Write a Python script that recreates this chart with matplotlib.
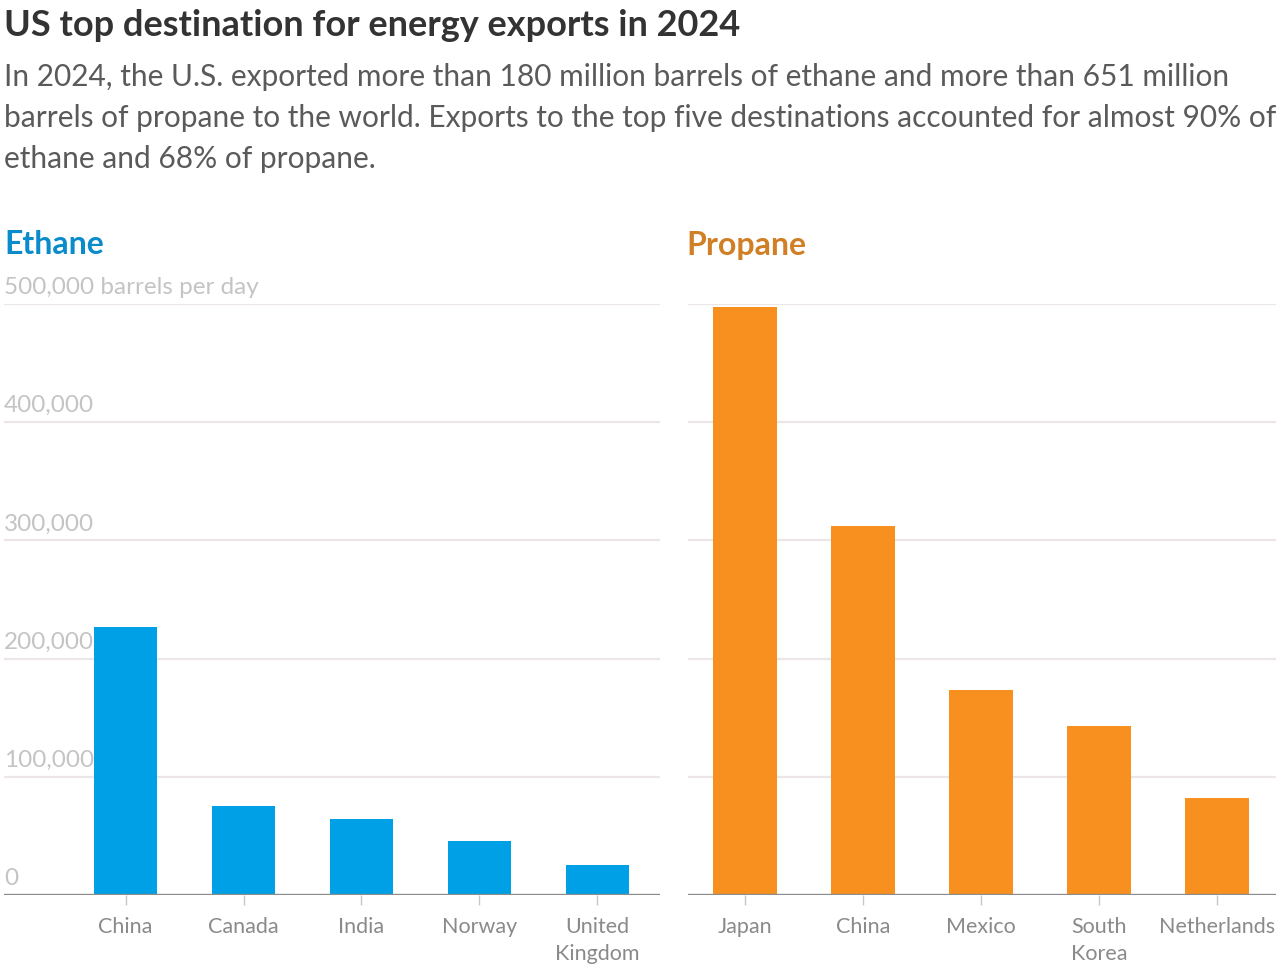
import matplotlib

matplotlib.use("Agg")
import matplotlib.pyplot as plt

plt.rcParams["font.family"] = ["Lato", "DejaVu Sans"]

# values (barrels per day)
ethane_countries = ["China", "Canada", "India", "Norway", "United\nKingdom"]
ethane_values = [226700, 75300, 64300, 45700, 25400]

propane_countries = ["Japan", "China", "Mexico", "South\nKorea", "Netherlands"]
propane_values = [497500, 312000, 173400, 143000, 82000]

y_ticks = [0, 100000, 200000, 300000, 400000, 500000]
y_tick_labels = ["0", "100,000", "200,000", "300,000", "400,000", "500,000 barrels per day"]

subtitle_lines = [
    "In 2024, the U.S. exported more than 180 million barrels of ethane and more than 651 million",
    "barrels of propane to the world. Exports to the top five destinations accounted for almost 90% of",
    "ethane and 68% of propane.",
]

ETHANE_BLUE = "#00a0e6"
PROPANE_ORANGE = "#f7901e"
GRID = "#ece6e8"
TICK_TEXT = "#8a8a8a"
AXIS_TEXT = "#c4c4c4"

W, H = 1284, 970
fig = plt.figure(figsize=(W / 100, H / 100), dpi=100)


def px_axes(x0, x1, y_top, y_bottom):
    return fig.add_axes([x0 / W, 1 - y_bottom / H, (x1 - x0) / W, (y_bottom - y_top) / H])


def style(ax, labels, values, color, xlim):
    xs = range(len(values))
    ax.bar(xs, values, width=0.54, color=color, zorder=3)
    ax.set_xlim(*xlim)
    ax.set_ylim(0, 500000)
    for v in y_ticks[1:]:
        ax.axhline(v, color=GRID, linewidth=1.6, zorder=1)
    ax.axhline(0, color="#8c8c8c", linewidth=2.4, zorder=4)
    for side in ax.spines.values():
        side.set_visible(False)
    ax.set_yticks([])
    ax.set_xticks(list(xs))
    ax.set_xticklabels(labels, fontsize=15.5, color=TICK_TEXT, linespacing=1.45, va="top")
    ax.tick_params(axis="x", length=7, width=1, color="#c8c8c8", pad=8)
    ax.patch.set_alpha(0)


ax_e = px_axes(4, 660, 305, 896)
style(ax_e, ethane_countries, ethane_values, ETHANE_BLUE, (-1.03, 4.53))
for v, lab in zip(y_ticks, y_tick_labels):
    ax_e.annotate(lab, (0, v), xycoords=("axes fraction", "data"), xytext=(0, 5),
                  textcoords="offset points", fontsize=17.5, color=AXIS_TEXT,
                  ha="left", va="bottom", zorder=2)

ax_p = px_axes(688, 1276, 305, 896)
style(ax_p, propane_countries, propane_values, PROPANE_ORANGE, (-0.48, 4.5))

fig.text(4 / W, 1 - 25 / H, "US top destination for energy exports in 2024", fontsize=26,
         fontweight="bold", color="#333333", ha="left", va="center")
for i, line in enumerate(subtitle_lines):
    fig.text(4 / W, 1 - (77 + 41 * i) / H, line, fontsize=21.5, color="#5a5a5a",
             ha="left", va="center")

fig.text(4 / W, 1 - 245 / H, "Ethane", fontsize=23, fontweight="bold", color="#0a8ccc",
         ha="left", va="center")
fig.text(686 / W, 1 - 245 / H, "Propane", fontsize=23, fontweight="bold", color="#d17f25",
         ha="left", va="center")

fig.savefig("out.png", dpi=100)
